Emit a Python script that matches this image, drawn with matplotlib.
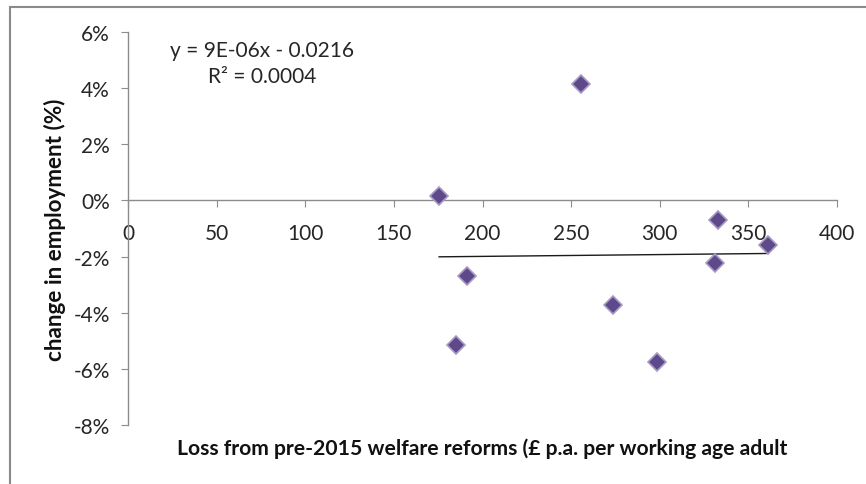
import matplotlib
matplotlib.use("Agg")
import matplotlib.pyplot as plt
from matplotlib.patches import Rectangle
from matplotlib.ticker import PercentFormatter
import numpy as np

# Data
loss = [175.5, 184.9, 191.5, 255.5, 273.4, 298.3, 330.9, 333.1, 361.0]
emp_change = [0.0015, -0.0515, -0.0270, 0.0415, -0.0373, -0.0575, -0.0223, -0.0070, -0.0159]
x_ticks = [0, 50, 100, 150, 200, 250, 300, 350, 400]
y_ticks = [-0.08, -0.06, -0.04, -0.02, 0.0, 0.02, 0.04, 0.06]
equation_text = "y = 9E-06x - 0.0216\nR\u00b2 = 0.0004"
x_label = "Loss from pre-2015 welfare reforms (\u00a3 p.a. per working age adult"
y_label = "change in employment (%)"

plt.rcParams['font.family'] = ['Lato', 'DejaVu Sans']
plt.rcParams['axes.unicode_minus'] = False

W, H = 866, 485
fig = plt.figure(figsize=(W / 100, H / 100), dpi=100)
ax = fig.add_axes([128 / W, 1 - 426 / H, (837 - 128) / W, 393 / H])

ax.set_xlim(0, 400)
ax.set_ylim(-0.08, 0.06)

axis_col = '#8c8c8c'
text_col = '#262626'

# Markers
ax.plot(loss, emp_change, linestyle='none', marker='D', markersize=9.5,
        markerfacecolor='#5e4a8a', markeredgecolor='#a99ac6', markeredgewidth=1.2,
        zorder=3)

# Linear trendline fitted from data
xa = np.array(loss)
coef = np.polyfit(xa, np.array(emp_change), 1)
xs = np.array([xa.min(), xa.max()])
ax.plot(xs, np.polyval(coef, xs), color='#1a1a1a', linewidth=1.0, zorder=2)

# Spines
for s in ['top', 'right']:
    ax.spines[s].set_visible(False)
ax.spines['bottom'].set_position(('data', 0))
ax.spines['left'].set_color(axis_col)
ax.spines['bottom'].set_color(axis_col)
ax.spines['left'].set_linewidth(1.0)
ax.spines['bottom'].set_linewidth(1.0)

ax.set_xticks(x_ticks)
ax.set_xticklabels([str(v) for v in x_ticks])
ax.set_yticks(y_ticks)
ax.yaxis.set_major_formatter(PercentFormatter(1.0, decimals=0))

ax.tick_params(axis='both', direction='out', length=5, color=axis_col,
               labelcolor=text_col, labelsize=15)
ax.tick_params(axis='x', pad=11)
ax.tick_params(axis='y', pad=8)

# Equation text
fig.text(262 / W, 1 - 64 / H, equation_text, ha='center', va='center',
         fontsize=15, color=text_col, linespacing=1.35)

# Axis labels
fig.text(482 / W, 1 - 449 / H, x_label, ha='center', va='center',
         fontsize=15.2, fontweight='bold', color='#111111')
fig.text(55 / W, 1 - 230 / H, y_label, ha='center', va='center',
         rotation=90, fontsize=16.2, fontweight='bold', color='#111111')

# Chart-area border (only top and left visible in crop)
fig.patches.append(Rectangle((10 / W, -0.2), 1.2, 1.2 - 8 / H,
                             transform=fig.transFigure, fill=False,
                             edgecolor='#8a8a8a', linewidth=1.5, clip_on=False))

fig.savefig('out.png', dpi=100)
